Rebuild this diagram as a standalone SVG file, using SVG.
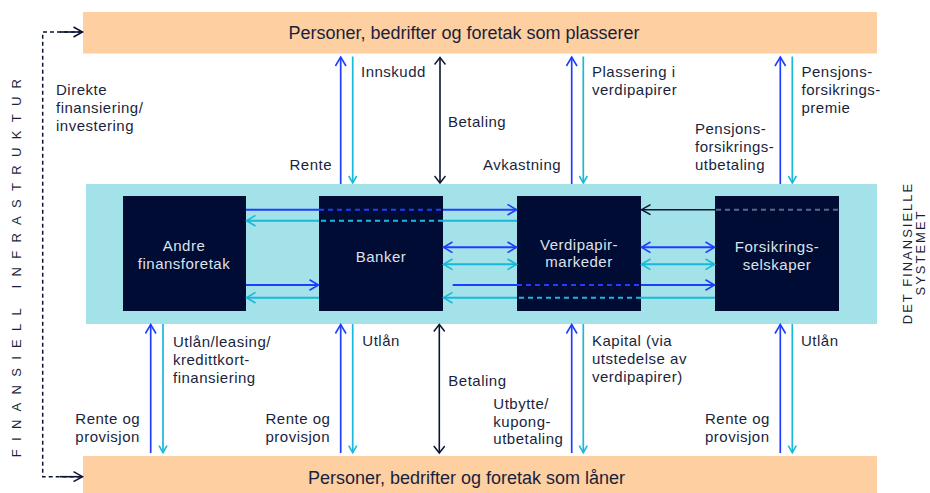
<svg xmlns="http://www.w3.org/2000/svg" width="930" height="493" viewBox="0 0 930 493">
<defs>
<style>
.lbl{font-family:"Liberation Sans",Arial,sans-serif;font-size:15px;letter-spacing:0.5px;fill:#1a1f3d}
.ttl{font-family:"Liberation Sans",Arial,sans-serif;font-size:18px;fill:#1a1f3d}
.box{fill:#000c34}
.btx{font-family:"Liberation Sans",Arial,sans-serif;font-size:15px;letter-spacing:0.5px;fill:#dfe2ea;text-anchor:middle}
.vt{font-family:"Liberation Sans",Arial,sans-serif;font-size:13px;fill:#1a1f3d;text-anchor:middle}
.b{stroke:#1f3cff;stroke-width:2;fill:none}
.c{stroke:#1ab8d9;stroke-width:2;fill:none}
.d{stroke:#0b1433;stroke-width:1.6;fill:none}
.vb{stroke:#1f3cff;stroke-width:1.7;fill:none}
.vc{stroke:#1ab8d9;stroke-width:1.7;fill:none}
.dash{stroke-dasharray:5 4}
</style>
<marker id="mb" viewBox="0 0 12 12" refX="10" refY="6" markerWidth="12" markerHeight="12" markerUnits="userSpaceOnUse" orient="auto-start-reverse"><path d="M1,0.7 L10,6 L1,11.3" fill="none" stroke="#1f3cff" stroke-width="1.6"/></marker>
<marker id="mc" viewBox="0 0 12 12" refX="10" refY="6" markerWidth="12" markerHeight="12" markerUnits="userSpaceOnUse" orient="auto-start-reverse"><path d="M1,0.7 L10,6 L1,11.3" fill="none" stroke="#1ab8d9" stroke-width="1.6"/></marker>
<marker id="mcs" viewBox="0 0 12 12" refX="8" refY="6" markerWidth="12" markerHeight="12" markerUnits="userSpaceOnUse" orient="auto-start-reverse"><path d="M1,2 L8,6 L1,10" fill="none" stroke="#1ab8d9" stroke-width="1.6"/></marker>
<marker id="md" viewBox="0 0 12 12" refX="10" refY="6" markerWidth="12" markerHeight="12" markerUnits="userSpaceOnUse" orient="auto-start-reverse"><path d="M1,1 L10,6 L1,11" fill="none" stroke="#0b1433" stroke-width="1.5"/></marker>
<marker id="mdv" viewBox="0 0 12 12" refX="8" refY="6" markerWidth="12" markerHeight="12" markerUnits="userSpaceOnUse" orient="auto-start-reverse"><path d="M1,0.5 L8,6 L1,11.5" fill="none" stroke="#0b1433" stroke-width="1.5"/></marker>
</defs>

<rect width="930" height="493" fill="#ffffff"/>

<g id="plasserer">
<rect x="83" y="12" width="794" height="41.5" fill="#fdcfa1"/>
<text class="ttl" x="464" y="39" text-anchor="middle">Personer, bedrifter og foretak som plasserer</text>
</g>
<g id="laaner">
<rect x="83" y="456" width="794" height="37" fill="#fdcfa1"/>
<text class="ttl" x="466.5" y="484" text-anchor="middle">Personer, bedrifter og foretak som låner</text>
</g>

<g id="finansielle-systemet">
<rect x="86" y="184" width="791" height="140" fill="#a3e2e8"/>
<text class="vt" letter-spacing="2" transform="translate(911.7,253) rotate(-90)">DET  FINANSIELLE</text>
<text class="vt" letter-spacing="2" transform="translate(925,252.5) rotate(-90)">SYSTEMET</text>
</g>

<g id="andre">
<rect class="box" x="123" y="196" width="123" height="115"/>
<text class="btx" x="184" y="251">Andre</text>
<text class="btx" x="184" y="268.5">finansforetak</text>
</g>
<g id="banker">
<rect class="box" x="319" y="196" width="124" height="115"/>
<text class="btx" x="381" y="262">Banker</text>
</g>
<g id="verdipapirmarkeder">
<rect class="box" x="517" y="196" width="124" height="115"/>
<text class="btx" x="579" y="249.5">Verdipapir-</text>
<text class="btx" x="579" y="267">markeder</text>
</g>
<g id="forsikringsselskaper">
<rect class="box" x="715" y="196" width="124" height="115"/>
<text class="btx" x="777" y="252">Forsikrings-</text>
<text class="btx" x="777" y="269.5">selskaper</text>
</g>

<g id="infrastruktur">
<text class="vt" letter-spacing="8.3" transform="translate(20.7,264) rotate(-90)">FINANSIELL INFRASTRUKTUR</text>
</g>

<g id="connectors">
<!-- left dashed infrastructure bracket -->
<path d="M82,32 H42.7 V476.7 H82" fill="none" stroke="#0b1433" stroke-width="1.5" stroke-dasharray="4 3"/>
<line x1="60" y1="32" x2="82.5" y2="32" class="d" stroke-width="0" marker-end="url(#md)"/>
<line x1="60" y1="476.7" x2="82.5" y2="476.7" class="d" stroke-width="0" marker-end="url(#md)"/>

<!-- horizontal row 1: Andre -> Verdipapir (blue, dashed through Banker) -->
<line class="b" x1="246" y1="209.7" x2="319" y2="209.7"/>
<line class="b dash" x1="319" y1="209.7" x2="443" y2="209.7"/>
<line class="b" x1="443" y1="209.7" x2="516.5" y2="209.7" marker-end="url(#mb)"/>
<!-- row 2: Verdipapir -> Andre (cyan) -->
<line class="c" x1="517" y1="220.7" x2="443" y2="220.7"/>
<line class="c dash" x1="443" y1="220.7" x2="319" y2="220.7"/>
<line class="c" x1="319" y1="220.7" x2="246.5" y2="220.7" marker-end="url(#mc)"/>
<!-- row 1 right: Forsikring -> Verdipapir (dark) -->
<line x1="838" y1="209.7" x2="715" y2="209.7" stroke="#56698c" stroke-width="2" stroke-dasharray="5 4"/>
<line class="d" x1="715" y1="209.7" x2="641.5" y2="209.7" marker-end="url(#md)"/>
<!-- rows 3-4 double arrows -->
<line class="b" x1="443.5" y1="247.3" x2="516.5" y2="247.3" marker-start="url(#mb)" marker-end="url(#mb)"/>
<line class="c" x1="443.5" y1="264.3" x2="516.5" y2="264.3" marker-start="url(#mc)" marker-end="url(#mc)"/>
<line class="b" x1="641.5" y1="247.3" x2="714.5" y2="247.3" marker-start="url(#mb)" marker-end="url(#mb)"/>
<line class="c" x1="641.5" y1="264.3" x2="714.5" y2="264.3" marker-start="url(#mc)" marker-end="url(#mc)"/>
<!-- row 5 -->
<line class="b" x1="246" y1="285" x2="318.5" y2="285" marker-end="url(#mb)"/>
<line class="b" x1="452.7" y1="285" x2="517" y2="285"/>
<line class="b dash" x1="517" y1="285" x2="641" y2="285"/>
<line class="b" x1="641" y1="285" x2="714.5" y2="285" marker-end="url(#mb)"/>
<!-- row 6 -->
<line class="c" x1="319" y1="297.7" x2="246.5" y2="297.7" marker-end="url(#mc)"/>
<line class="c" x1="715" y1="297.7" x2="641" y2="297.7"/>
<line class="c dash" x1="641" y1="297.7" x2="517" y2="297.7"/>
<line class="c" x1="517" y1="297.7" x2="443.5" y2="297.7" marker-end="url(#mc)"/>

<!-- top verticals -->
<line class="vb" x1="340.7" y1="184" x2="340.7" y2="57" marker-end="url(#mb)"/>
<line class="vc" x1="352.7" y1="56.5" x2="352.7" y2="183" marker-end="url(#mcs)"/>
<line class="d" x1="440" y1="57.5" x2="440" y2="183" marker-start="url(#mdv)" marker-end="url(#mdv)"/>
<line class="vb" x1="571.7" y1="184" x2="571.7" y2="57" marker-end="url(#mb)"/>
<line class="vc" x1="583.3" y1="56.5" x2="583.3" y2="183" marker-end="url(#mcs)"/>
<line class="vb" x1="780.3" y1="184" x2="780.3" y2="57" marker-end="url(#mb)"/>
<line class="vc" x1="792.3" y1="56.5" x2="792.3" y2="183" marker-end="url(#mcs)"/>

<!-- bottom verticals -->
<line class="vb" x1="150.7" y1="453" x2="150.7" y2="324.5" marker-end="url(#mb)"/>
<line class="vc" x1="163" y1="324" x2="163" y2="452.7" marker-end="url(#mcs)"/>
<line class="vb" x1="340.7" y1="453" x2="340.7" y2="324.5" marker-end="url(#mb)"/>
<line class="vc" x1="352.7" y1="324" x2="352.7" y2="452.7" marker-end="url(#mcs)"/>
<line class="d" x1="439.3" y1="324.5" x2="439.3" y2="453" marker-start="url(#mdv)" marker-end="url(#mdv)"/>
<line class="vb" x1="571.7" y1="453" x2="571.7" y2="324.5" marker-end="url(#mb)"/>
<line class="vc" x1="583.3" y1="324" x2="583.3" y2="452.7" marker-end="url(#mcs)"/>
<line class="vb" x1="780.3" y1="453" x2="780.3" y2="324.5" marker-end="url(#mb)"/>
<line class="vc" x1="792.3" y1="324" x2="792.3" y2="452.7" marker-end="url(#mcs)"/>
</g>

<g id="labels">
<text class="lbl" x="56" y="95.3">Direkte</text>
<text class="lbl" x="56" y="113.3">finansiering/</text>
<text class="lbl" x="56" y="131.3">investering</text>

<text class="lbl" x="361" y="76.5">Innskudd</text>
<text class="lbl" x="448" y="127.3">Betaling</text>
<text class="lbl" x="332" y="170" text-anchor="end">Rente</text>
<text class="lbl" x="483" y="170">Avkastning</text>
<text class="lbl" x="592" y="76.5">Plassering i</text>
<text class="lbl" x="592" y="94.5">verdipapirer</text>
<text class="lbl" x="801.5" y="76.5">Pensjons-</text>
<text class="lbl" x="801.5" y="94.5">forsikrings-</text>
<text class="lbl" x="801.5" y="112.5">premie</text>
<text class="lbl" x="695" y="133.5">Pensjons-</text>
<text class="lbl" x="695" y="151.7">forsikrings-</text>
<text class="lbl" x="695" y="170">utbetaling</text>

<text class="lbl" x="173" y="346.5">Utlån/leasing/</text>
<text class="lbl" x="173" y="364.5">kredittkort-</text>
<text class="lbl" x="173" y="382.5">finansiering</text>
<text class="lbl" x="75.3" y="424">Rente og</text>
<text class="lbl" x="75.3" y="442">provisjon</text>
<text class="lbl" x="362.3" y="346">Utlån</text>
<text class="lbl" x="448.3" y="385.7">Betaling</text>
<text class="lbl" x="265.5" y="424">Rente og</text>
<text class="lbl" x="265.5" y="442">provisjon</text>
<text class="lbl" x="493.3" y="409">Utbytte/</text>
<text class="lbl" x="493.3" y="426.5">kupong-</text>
<text class="lbl" x="493.3" y="444">utbetaling</text>
<text class="lbl" x="592" y="346">Kapital (via</text>
<text class="lbl" x="592" y="364">utstedelse av</text>
<text class="lbl" x="592" y="382">verdipapirer)</text>
<text class="lbl" x="801" y="346">Utlån</text>
<text class="lbl" x="705" y="424">Rente og</text>
<text class="lbl" x="705" y="442">provisjon</text>
</g>
</svg>
